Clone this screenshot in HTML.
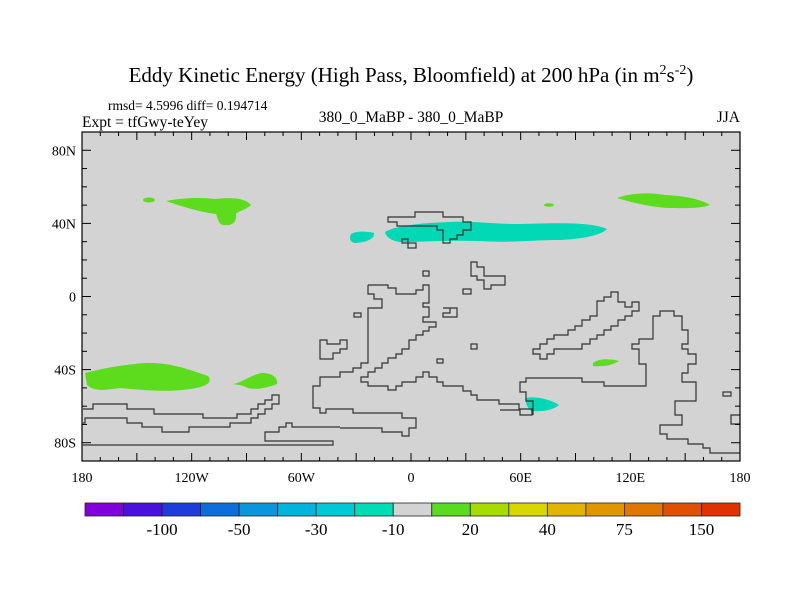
<!DOCTYPE html>
<html><head><meta charset="utf-8"><style>
body{margin:0;background:#fff}
svg{display:block;font-family:"Liberation Serif",serif}
</style></head><body>
<svg id="chart" width="800" height="600" viewBox="0 0 800 600" xmlns="http://www.w3.org/2000/svg">
<text x="411" y="82" text-anchor="middle" font-size="21">Eddy Kinetic Energy (High Pass, Bloomfield) at 200 hPa (in m<tspan dy="-8" font-size="14">2</tspan><tspan dy="8">s</tspan><tspan dy="-8" font-size="14">-2</tspan><tspan dy="8">)</tspan></text>
<text x="108" y="110" font-size="13.5">rmsd= 4.5996 diff= 0.194714</text>
<text x="82" y="127" font-size="15.5">Expt = tfGwy-teYey</text>
<text x="411" y="122" text-anchor="middle" font-size="15.5">380_0_MaBP - 380_0_MaBP</text>
<text x="740" y="122" text-anchor="end" font-size="15.5">JJA</text>
<rect x="82" y="132" width="658" height="329" fill="#d3d3d3"/>
<g>
<ellipse cx="149" cy="200" rx="6" ry="2.5" fill="#5cdc1c"/>
<path d="M166,201 C180,198 200,197 215,199 C232,197 245,198 251,205 C246,210 238,211 236,214 C237,222 232,226 225,225 C219,226 218,219 216,214 C200,212 180,206 166,201Z" fill="#5cdc1c"/>
<path d="M351,234 C356,231 366,231 374,233 C375,238 368,242 356,243 C350,243 349,238 351,234Z" fill="#00d8b6"/>
<path d="M385,232 C395,226 420,223 450,222 C475,221 490,224 520,224 C560,223 590,222 607,229 C600,236 580,239 560,240 C530,240 510,243 480,241 C450,240 420,242 400,242 C392,241 386,237 385,232Z" fill="#00d8b6"/>
<ellipse cx="549" cy="205" rx="5" ry="1.8" fill="#5cdc1c"/>
<path d="M617,198 C630,193 650,192 665,195 C685,196 700,199 710,205 C700,209 680,208 668,208 C650,207 630,202 617,198Z" fill="#5cdc1c"/>
<path d="M593,363 C598,359 608,358 619,361 C613,365 603,367 593,366Z" fill="#5cdc1c"/>
<path d="M526,398 C534,396 550,399 559,405 C553,410 543,412 531,411 C526,406 525,401 526,398Z" fill="#00d8b6"/>
<path d="M85,373 C100,369 120,365 145,363 C170,362 190,370 208,376 C213,382 207,387 190,389 C170,392 150,391 120,388 C105,390 95,392 87,385Z" fill="#5cdc1c"/>
<path d="M233,384 C242,383 250,375 262,373 C273,373 278,378 277,384 C268,388 255,390 248,388 C243,385 238,385 233,384Z" fill="#5cdc1c"/>
</g>
<g fill="none" stroke="#333" stroke-width="1.2">
<polygon points="388,217 415,217 415,212 443,212 443,217 463,217 463,222 471,222 471,230 463,230 463,235 457,235 457,239 450,239 450,243 443,243 443,230 437,230 437,226 397,226 397,222 388,222"/>
<rect x="402" y="239" width="6" height="4"/><rect x="408" y="243" width="8" height="5"/>
<rect x="423" y="271" width="6" height="5"/>
<polygon points="471,262 477,262 477,267 484,267 484,276 505,276 505,285 491,285 491,289 484,289 484,280 477,280 477,276 471,276"/>
<rect x="463" y="289" width="8" height="5"/>
<rect x="354" y="313" width="7" height="4"/>
<polygon points="443,308 457,308 457,317 443,317 443,313 450,313 450,308"/>
<rect x="471" y="344" width="6" height="5"/><rect x="437" y="359" width="6" height="4"/>
<polygon points="320,340 327,340 327,344 340,344 340,340 347,340 347,349 340,349 340,353 333,353 333,359 320,359"/>
<polyline points="368,285 388,285 388,288 396,288 396,294 416,294 416,290 423,290 423,285 429,285 429,303 423,303 423,307 429,307 429,317 423,317 423,322 436,322 436,327 429,327 429,331 423,331 423,335 416,335 416,340 409,340 409,349 402,349 402,354 396,354 396,358 388,358 388,363 382,363 382,368 375,368 375,372 368,372 368,377 361,377 361,382 361,382 368,382 368,386 388,386 388,390 396,390 396,386 402,386 402,382 416,382 416,377 423,377 423,372 429,372 429,377 437,377 437,382 443,382 443,386 463,386 463,391 471,391 471,395 477,395 477,400 499,400 499,404 519,404 519,409 532,409 532,415 520,415 520,410 500,410"/>
<polyline points="368,285 368,294 374,294 374,299 382,299 382,308 368,308 368,363 361,363 361,368 353,368 353,372 340,372 340,377 320,377 320,386 313,386 313,408 320,408 320,413 326,413 326,409 353,409 353,413 402,413 402,418 416,418 416,428 409,428 409,436 402,436 402,432 382,432 382,428 340,428"/>
<polyline points="83,409 93,409 93,404 127,404 127,409 154,409 154,414 203,414 203,418 237,418 237,414 251,414 251,409 258,409 258,404 265,404 265,400 272,400 272,395 279,395 279,404 272,404 272,409 265,409 265,414 258,414 258,418 251,418 251,423 230,423 230,427 189,427 189,432 162,432 162,427 142,427 142,423 127,423 127,418 85,418 85,423 83,423"/>
<polyline points="83,445 333,445 333,441 265,441 265,432 279,432 279,427 286,427 286,423 292,423 292,427 340,427"/>
<polygon points="533,349 540,349 540,344 547,344 547,339 554,339 554,335 568,335 568,330 575,330 575,326 582,326 582,320 590,320 590,316 597,316 597,301 604,301 604,297 611,297 611,292 618,292 618,302 625,302 625,307 632,307 632,302 639,302 639,311 632,311 632,316 625,316 625,320 618,320 618,326 611,326 611,330 604,330 604,335 597,335 597,339 590,339 590,344 582,344 582,349 554,349 554,354 547,354 547,359 540,359 540,354 533,354"/>
<polyline points="533,415 533,401 526,401 526,392 520,392 520,382 526,382 526,378 582,378 582,382 604,382 604,386 646,386 646,364 639,364 639,349 632,349 632,344 639,344 639,339 653,339 653,316 660,316 660,311 674,311 674,316 682,316 682,330 688,330 688,344 682,344 682,349 688,349 688,354 696,354 696,364 688,364 688,373 682,373 682,382 696,382 696,401 675,401 675,415 682,415 682,425 660,425 660,434 667,434 667,439 688,439 688,444 703,444 703,448 710,448 710,453 740,453"/>
<rect x="723" y="392" width="8" height="4"/>
<polyline points="740,415 731,415 731,424 740,424"/>
</g>
<g id="axes"></g>
<g id="colorbar"></g>
</svg>
<script>
const latTicks = [80, 40, 0, -40, -80];
const latLabels = ["80N", "40N", "0", "40S", "80S"];
const lonTicks = [-180, -120, -60, 0, 60, 120, 180];
const lonLabels = ["180", "120W", "60W", "0", "60E", "120E", "180"];
const levelLabels = ["-100", "-50", "-30", "-10", "20", "40", "75", "150"];
const levelColors = ["#8200dc","#4a10dc","#1e3cdc","#0a6edc","#0a96dc","#00b4dc","#00c8d8","#00dcb4","#d3d3d3","#5adc1e","#a8dc00","#d8d800","#e0b400","#e09600","#e07800","#e05000","#e03200"];
const NS = "http://www.w3.org/2000/svg";
const X0 = 82, X1 = 740, Y0 = 132, Y1 = 461;
function xOf(lon){return X0 + (lon + 180) / 360 * (X1 - X0);}
function yOf(lat){return Y0 + (90 - lat) / 180 * (Y1 - Y0);}
function mk(tag, attrs, parent){const e=document.createElementNS(NS,tag);for(const k in attrs)e.setAttribute(k,attrs[k]);parent.appendChild(e);return e;}
const ax = document.getElementById("axes");
const frame = mk("rect",{x:X0,y:Y0,width:X1-X0,height:Y1-Y0,fill:"none",stroke:"#000","stroke-width":1.2},ax);


for (let lat=-80; lat<=80; lat+=10){
  const major = latTicks.includes(lat), L = major ? 9 : 5, y = yOf(lat);
  const t1 = mk("line",{x1:X0,x2:X0+L,y1:y,y2:y,stroke:"#000"},ax);
  
  
  const t2 = mk("line",{x1:X1,x2:X1-L,y1:y,y2:y,stroke:"#000"},ax);
  
  
}
latTicks.forEach((lat,i)=>{
  const t = mk("text",{x:X0-6,y:yOf(lat)+5,"text-anchor":"end","font-size":14},ax);
  t.textContent = latLabels[i];
  
  
});
for (let lon=-170; lon<180; lon+=10){
  const major = lon % 30 === 0, L = major ? 8 : 4, x = xOf(lon);
  const t1 = mk("line",{x1:x,x2:x,y1:Y1,y2:Y1-L,stroke:"#000"},ax);
  
  
  const t2 = mk("line",{x1:x,x2:x,y1:Y0,y2:Y0+L,stroke:"#000"},ax);
  
  
}
lonTicks.forEach((lon,i)=>{
  const t = mk("text",{x:xOf(lon),y:Y1+21,"text-anchor":"middle","font-size":14},ax);
  t.textContent = lonLabels[i];
  
  
});
const cb = document.getElementById("colorbar");
const CB0 = 85, CB1 = 740, CBY = 503, CBH = 13, w = (CB1 - CB0) / levelColors.length;
levelColors.forEach((c,i)=>{
  const r = mk("rect",{x:CB0+i*w,y:CBY,width:w,height:CBH,fill:c,stroke:"#222","stroke-width":0.8},cb);
  
  
});
levelLabels.forEach((s,i)=>{
  const t = mk("text",{x:CB0+(2*i+2)*w,y:CBY+CBH+19,"text-anchor":"middle","font-size":17},cb);
  t.textContent = s;
  
  
});
</script>
</body></html>
